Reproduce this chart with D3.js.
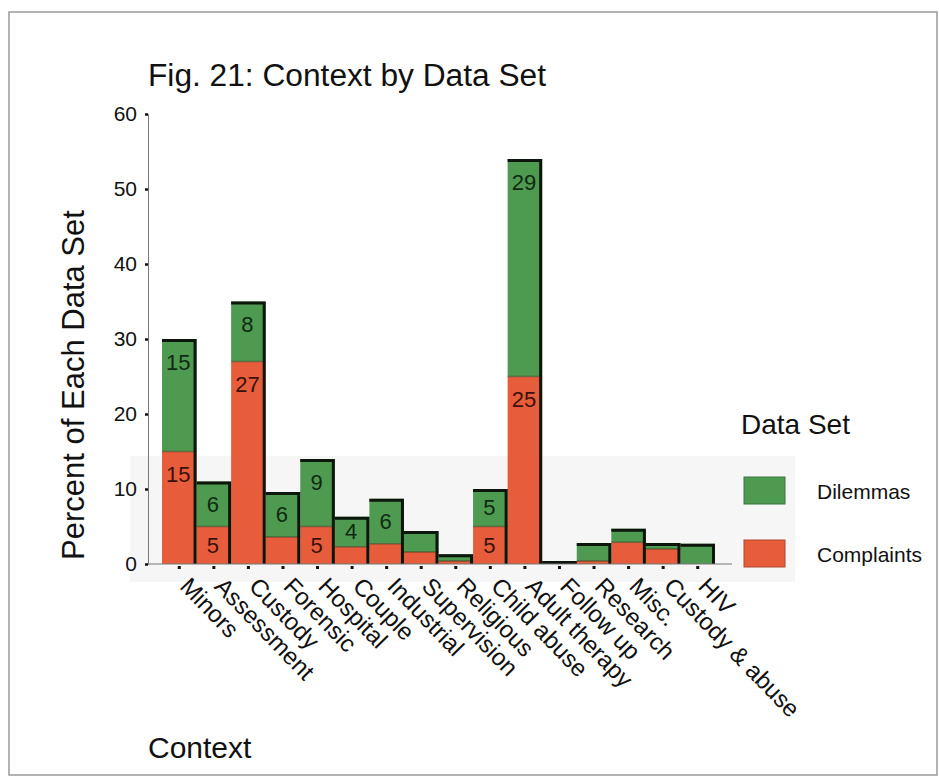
<!DOCTYPE html>
<html>
<head>
<meta charset="utf-8">
<script src="https://cdn.jsdelivr.net/npm/d3@7"></script>
<style>
  html, body { margin: 0; padding: 0; background: #fff; }
  svg { display: block; }
  text { font-family: "Liberation Sans", Arial, Helvetica, sans-serif; fill: #111; }
</style>
</head>
<body>
<script>
// Context categories and percentages for each data set
const categories = ["Minors", "Assessment", "Custody", "Forensic", "Hospital", "Couple",
  "Industrial", "Supervision", "Religious", "Child abuse", "Adult therapy", "Follow up",
  "Research", "Misc.", "Custody & abuse", "HIV"];
const complaints = [15, 5, 27, 3.6, 5, 2.3, 2.7, 1.6, 0.4, 5, 25, 0.2, 0.4, 2.9, 2.0, 0];
const dilemmas   = [15, 6, 8, 6, 9, 4, 6, 2.8, 0.9, 5, 29, 0.2, 2.4, 1.8, 0.8, 2.7];
const seriesNames = ["Dilemmas", "Complaints"];
const yTicks = [0, 10, 20, 30, 40, 50, 60];

const colors = { Complaints: "#e75d3b", Dilemmas: "#4f9a51" };
const labelInk = { Complaints: "#3a120a", Dilemmas: "#0f2a12" };

const W = 939, H = 777;
const svg = d3.select("body").append("svg").attr("width", W).attr("height", H);

svg.append("rect").attr("width", W).attr("height", H).attr("fill", "#fff");

// page frame
svg.append("rect")
  .attr("x", 9).attr("y", 12).attr("width", 928).attr("height", 763)
  .attr("fill", "none").attr("stroke", "#9a9a9a").attr("stroke-width", 1.5);

// faint grey band behind the lower part of the plot
svg.append("rect")
  .attr("x", 130).attr("y", 456).attr("width", 665).attr("height", 126)
  .attr("fill", "#f6f6f6");

const x = d3.scaleBand().domain(categories).range([162, 715]).padding(0);
const y = d3.scaleLinear().domain([0, 60]).range([564, 114]);

// stacked data: complaints on the bottom, dilemmas above
const rows = categories.map((c, i) => ({ context: c, Complaints: complaints[i], Dilemmas: dilemmas[i] }));
const stack = d3.stack().keys(["Complaints", "Dilemmas"])(rows);

const g = svg.append("g");

stack.forEach(layer => {
  const key = layer.key;
  g.append("g").selectAll("rect")
    .data(layer)
    .join("rect")
    .attr("x", d => x(d.data.context))
    .attr("width", x.bandwidth())
    .attr("y", d => y(d[1]))
    .attr("height", d => y(d[0]) - y(d[1]))
    .attr("fill", colors[key]);
});

// boundary between the two segments
g.append("g").selectAll("line")
  .data(rows.filter(r => r.Complaints > 0 && r.Dilemmas > 0))
  .join("line")
  .attr("x1", d => x(d.context))
  .attr("x2", d => x(d.context) + x.bandwidth())
  .attr("y1", d => y(d.Complaints))
  .attr("y2", d => y(d.Complaints))
  .attr("stroke", "#3b3a22").attr("stroke-opacity", 0.55).attr("stroke-width", 1.5);

// dark top and right edges of each stacked bar
const edge = g.append("g").attr("fill", "none").attr("stroke", "#0d160d").attr("stroke-width", 3);
edge.selectAll("path")
  .data(rows)
  .join("path")
  .attr("d", d => {
    const top = y(d.Complaints + d.Dilemmas) + 1.5;
    const x0 = x(d.context), x1 = x(d.context) + x.bandwidth() - 1.5;
    return `M${x0},${top}H${x1}V${y(0)}`;
  });

// value labels inside segments
stack.forEach(layer => {
  const key = layer.key;
  g.append("g").selectAll("text")
    .data(layer.filter(d => (d[1] - d[0]) >= 4))
    .join("text")
    .attr("x", d => x(d.data.context) + x.bandwidth() / 2 - 1)
    .attr("y", d => Math.min((y(d[0]) + y(d[1])) / 2, y(d[1]) + 23))
    .attr("text-anchor", "middle")
    .attr("dominant-baseline", "central")
    .attr("font-size", 22)
    .style("fill", labelInk[key])
    .text(d => Math.round(d[1] - d[0]));
});

// y axis
const yAxis = svg.append("g")
  .attr("transform", "translate(148,0)")
  .call(d3.axisLeft(y).tickValues(yTicks).tickSize(3).tickPadding(8).tickFormat(d3.format("d")));
yAxis.select(".domain").attr("stroke", "#777").attr("stroke-width", 1);
yAxis.selectAll(".tick line").attr("stroke", "#111").attr("stroke-width", 2.5);
yAxis.selectAll(".tick text").attr("font-size", 21).style("fill", "#111");

// x axis
const xAxis = svg.append("g")
  .attr("transform", "translate(0,564)")
  .call(d3.axisBottom(x).tickSize(5).tickPadding(0));
xAxis.select(".domain").remove();
xAxis.selectAll(".tick line").attr("stroke", "#111").attr("stroke-width", 3).attr("y1", 2);
xAxis.selectAll(".tick text")
  .attr("font-size", 24)
  .attr("text-anchor", "start")
  .attr("dy", 0)
  .attr("transform", "translate(3,20) rotate(46)")
  .style("fill", "#111");
svg.append("line")
  .attr("x1", 148).attr("x2", 732).attr("y1", 564).attr("y2", 564)
  .attr("stroke", "#777").attr("stroke-width", 1);

// titles
svg.append("text").attr("x", 148).attr("y", 86).attr("font-size", 31)
  .attr("textLength", 398).attr("lengthAdjust", "spacingAndGlyphs")
  .text("Fig. 21: Context by Data Set");
svg.append("text")
  .attr("transform", "translate(84,385) rotate(-90)")
  .attr("text-anchor", "middle").attr("font-size", 31)
  .text("Percent of Each Data Set");
svg.append("text").attr("x", 148).attr("y", 758).attr("font-size", 30).text("Context");

// legend
const legend = svg.append("g");
legend.append("text").attr("x", 741).attr("y", 434).attr("font-size", 28).text("Data Set");
seriesNames.forEach((name, i) => {
  const yy = 477 + i * 63;
  legend.append("rect")
    .attr("x", 744).attr("y", yy).attr("width", 41).attr("height", 27)
    .attr("fill", colors[name]).attr("stroke", d3.color(colors[name]).darker(0.8)).attr("stroke-width", 1);
  legend.append("text")
    .attr("x", 817).attr("y", yy + 14)
    .attr("dominant-baseline", "central")
    .attr("font-size", 21).text(name);
});
</script>
</body>
</html>
